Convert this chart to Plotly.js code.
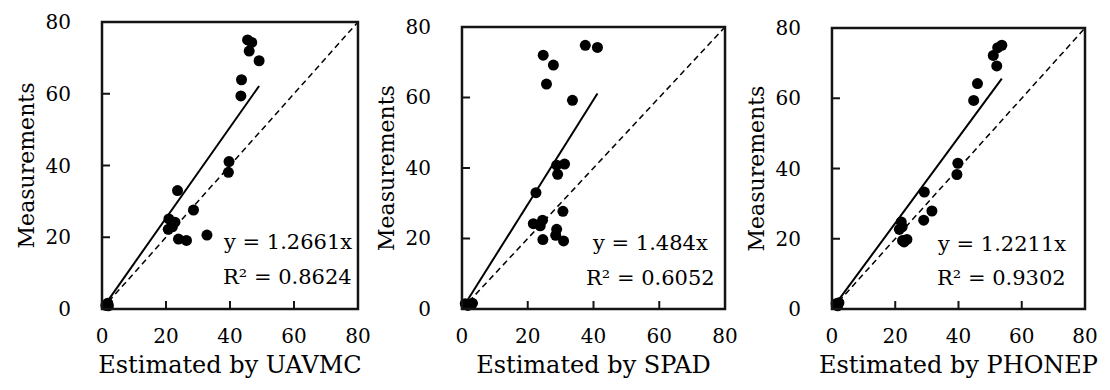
<!DOCTYPE html>
<html>
<head>
<meta charset="utf-8">
<script src="https://cdn.plot.ly/plotly-3.0.1.min.js"></script>
<style>html,body{margin:0;padding:0;background:#fff;}#chart{width:1110px;height:390px;}</style>
</head>
<body>
<div id="chart"></div>
<script>
// ---- data ----
const uavmcX = [1.2, 1.8, 2.0, 45.5, 46.8, 46.0, 49.1, 43.6, 43.4, 39.7, 39.5, 23.6, 28.6, 20.9, 22.8, 22.0, 20.7, 23.9, 26.4, 32.8];
const uavmcY = [1.0, 1.6, 0.9, 75.0, 74.3, 71.9, 69.2, 63.9, 59.4, 41.1, 38.1, 33.0, 27.6, 25.1, 24.2, 22.9, 22.2, 19.5, 19.1, 20.6];

const spadX = [1.0, 1.8, 3.2, 37.5, 41.2, 24.7, 27.8, 25.7, 33.6, 28.8, 31.2, 29.1, 22.5, 30.7, 21.7, 24.5, 23.8, 28.8, 28.5, 24.6, 30.9];
const spadY = [1.5, 1.0, 1.6, 74.8, 74.2, 72.0, 69.2, 63.8, 59.2, 40.8, 41.1, 38.2, 33.0, 27.7, 24.2, 25.2, 23.6, 22.6, 20.9, 19.7, 19.3];

const phonepX = [1.3, 2.2, 1.8, 53.7, 52.4, 51.0, 52.1, 46.0, 44.8, 39.8, 39.5, 29.2, 31.6, 29.0, 21.9, 21.3, 22.2, 22.3, 23.7, 22.8];
const phonepY = [1.5, 1.8, 0.9, 75.1, 74.4, 72.2, 69.2, 64.2, 59.4, 41.5, 38.3, 33.3, 27.9, 25.3, 24.8, 22.7, 23.4, 19.5, 19.8, 19.1];

const slopes = [1.2661, 1.484, 1.2211];
const slopeText = ['1.2661', '1.484', '1.2211'];
const r2Text = ['0.8624', '0.6052', '0.9302'];
const xTitles = ['Estimated by UAVMC', 'Estimated by SPAD', 'Estimated by PHONEP'];
const yTitle = 'Measurements';
const tickVals = [0, 20, 40, 60, 80];
const tickText = ['0', '20', '40', '60', '80'];
const oneToOne = [0, 80];

// ---- build ----
const FONT = 'DejaVu Serif, Liberation Serif, serif';
const INK = '#000000';
const FRAME = '#141414';
const W = 1110, H = 390, M = {l: 102, r: 25, t: 22, b: 81};
const PW = W - M.l - M.r, PH = H - M.t - M.b;
const TICKLEN = 8;
const panels = [[uavmcX, uavmcY], [spadX, spadY], [phonepX, phonepY]];
const traces = [];
const annotations = [];
const shapes = [];
const layout = {
  width: W, height: H, margin: M,
  paper_bgcolor: '#ffffff', plot_bgcolor: 'rgba(0,0,0,0)',
  showlegend: false,
  font: {family: FONT, color: INK, size: 20}
};
const xDomains = [[0, 0.2604], [0.3662, 0.6338], [0.7426, 1]];
const yDomains = [[0, 1], [0, 0.9826], [0, 0.979]];

panels.forEach((p, i) => {
  const n = i === 0 ? '' : String(i + 1);
  const xr = 'x' + n, yr = 'y' + n;
  const xs = p[0], ys = p[1];
  traces.push({x: oneToOne, y: oneToOne, xaxis: xr, yaxis: yr, mode: 'lines',
    line: {color: INK, width: 1.5, dash: '6px,4px'}, hoverinfo: 'skip'});
  const xmin = Math.min(...xs), xmax = Math.max(...xs);
  traces.push({x: [xmin, xmax], y: [slopes[i] * xmin, slopes[i] * xmax], xaxis: xr, yaxis: yr,
    mode: 'lines', line: {color: INK, width: 2}, hoverinfo: 'skip'});
  traces.push({x: xs, y: ys, xaxis: xr, yaxis: yr, mode: 'markers', cliponaxis: false,
    marker: {color: INK, size: 11}});

  layout['xaxis' + n] = {
    domain: xDomains[i], anchor: yr, range: [0, 80], tickvals: tickVals, ticktext: tickText,
    ticks: '', showline: false, showgrid: false, zeroline: false, ticklabelstandoff: 13,
    tickfont: {family: FONT, size: 20, color: INK},
    title: {text: xTitles[i], font: {family: FONT, size: 24, color: INK}, standoff: 9}
  };
  layout['yaxis' + n] = {
    domain: yDomains[i], anchor: xr, range: [0, 80], tickvals: tickVals, ticktext: tickText,
    ticks: '', showline: false, showgrid: false, zeroline: false, ticklabelstandoff: 30,
    tickfont: {family: FONT, size: 20, color: INK},
    title: {text: yTitle, font: {family: FONT, size: 22, color: INK}, standoff: 4}
  };

  // frame and inside ticks as shapes
  shapes.push({type: 'rect', xref: xr + ' domain', yref: yr + ' domain', x0: 0, x1: 1, y0: 0, y1: 1,
    line: {color: FRAME, width: 2.5}, fillcolor: 'rgba(0,0,0,0)', layer: 'above'});
  const wFrac = TICKLEN / (PW * (xDomains[i][1] - xDomains[i][0]));
  const hFrac = TICKLEN / (PH * (yDomains[i][1] - yDomains[i][0]));
  tickVals.slice(1, -1).forEach(v => {
    shapes.push({type: 'line', xref: xr, yref: yr + ' domain', x0: v, x1: v, y0: 0, y1: hFrac,
      line: {color: FRAME, width: 2}, layer: 'above'});
    shapes.push({type: 'line', xref: xr + ' domain', yref: yr, x0: 0, x1: wFrac, y0: v, y1: v,
      line: {color: FRAME, width: 2}, layer: 'above'});
  });

  const cx = [58, 57.3, 53.5][i];
  annotations.push({xref: xr, yref: yr, x: cx, y: 18.6, text: 'y = ' + slopeText[i] + 'x',
    showarrow: false, xanchor: 'center', yanchor: 'middle', font: {family: FONT, size: 21, color: INK}});
  annotations.push({xref: xr, yref: yr, x: cx, y: 8.8, text: 'R² = ' + r2Text[i],
    showarrow: false, xanchor: 'center', yanchor: 'middle', font: {family: FONT, size: 21, color: INK}});
});
layout.annotations = annotations;
layout.shapes = shapes;

Plotly.newPlot('chart', traces, layout, {displayModeBar: false, staticPlot: true});
</script>
</body>
</html>
